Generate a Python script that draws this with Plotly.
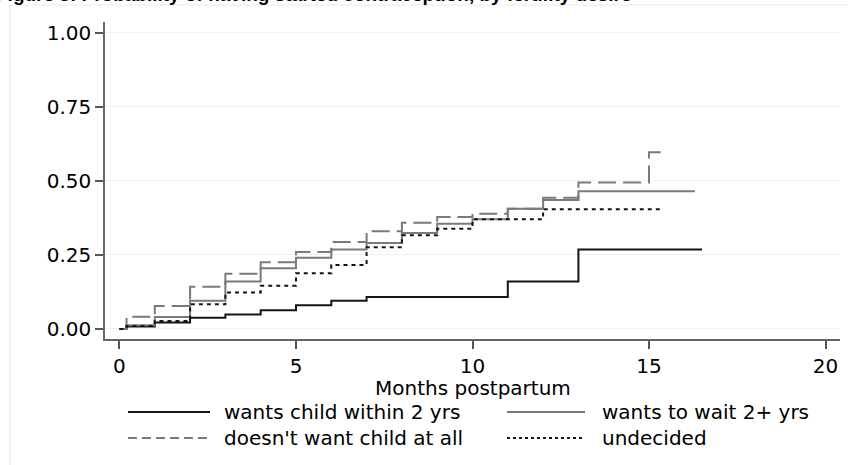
import plotly.graph_objects as go

# ---------------- data ----------------
series_names = ["wants child within 2 yrs", "wants to wait 2+ yrs",
                "doesn't want child at all", "undecided"]

months_child2 = [0, 0.2, 1, 2, 3, 4, 5, 6, 7, 11, 13, 16.5]
prob_child2 = [0, 0.008, 0.022, 0.038, 0.049, 0.063, 0.080, 0.095, 0.108, 0.160, 0.268, 0.268]

months_wait = [0, 0.2, 1, 2, 3, 4, 5, 6, 7, 8, 9, 10, 11, 12, 13, 16.3]
prob_wait = [0, 0.012, 0.040, 0.095, 0.160, 0.205, 0.240, 0.268, 0.290, 0.324, 0.355,
             0.370, 0.406, 0.435, 0.465, 0.465]

months_none = [0, 0.2, 1, 2, 3, 4, 5, 6, 7, 8, 9, 10, 11, 12, 13, 15, 15.33]
prob_none = [0, 0.041, 0.077, 0.142, 0.186, 0.225, 0.260, 0.293, 0.330, 0.358, 0.378,
             0.389, 0.406, 0.443, 0.494, 0.596, 0.596]

months_undec = [0, 0.2, 1, 2, 3, 4, 5, 6, 7, 8, 9, 10, 12, 15.4]
prob_undec = [0, 0.010, 0.027, 0.083, 0.123, 0.146, 0.188, 0.216, 0.276, 0.316, 0.338,
              0.370, 0.404, 0.404]

x_tick_vals = [0, 5, 10, 15, 20]
x_tick_text = ["0", "5", "10", "15", "20"]
y_tick_vals = [0, 0.25, 0.5, 0.75, 1.0]
y_tick_text = ["0.00", "0.25", "0.50", "0.75", "1.00"]

x_title = "Months postpartum"
fig_title = "Figure 3: Probability of having started contraception, by fertility desire"

# ---------------- styling ----------------
W, H = 848, 465
L, R, T, B = 105, 8, 22, 126
PW, PH = W - L - R, H - T - B

def px_x(px):
    return (px - L) / PW

def px_y(py):
    return (H - B - py) / PH

FONT = "DejaVu Sans"
GRAY = "#7a7a7a"
BLACK = "#141414"

styles = [
    dict(color=BLACK, width=2, dash="solid"),
    dict(color=GRAY, width=2, dash="solid"),
    dict(color=GRAY, width=2, dash="18px,7px"),
    dict(color=BLACK, width=2, dash="4px,4px"),
]
legend_dash = ["solid", "solid", "9px,5px", "3px,3px"]

xs = [months_child2, months_wait, months_none, months_undec]
ys = [prob_child2, prob_wait, prob_none, prob_undec]

fig = go.Figure()
for name, x, y, st in zip(series_names, xs, ys, styles):
    fig.add_trace(go.Scatter(x=x, y=y, mode="lines", line_shape="hv",
                             name=name, line=st, showlegend=False))

fig.update_layout(
    width=W, height=H,
    margin=dict(l=L, r=R, t=T, b=B, autoexpand=False),
    paper_bgcolor="white", plot_bgcolor="white",
    font=dict(family=FONT, size=20, color="black"),
    showlegend=False,
)
fig.update_xaxes(
    range=[-0.41, 20.41], tickvals=x_tick_vals, ticktext=x_tick_text,
    ticks="outside", ticklen=8, tickwidth=1.5, tickcolor="#555",
    showline=True, linecolor="#666", linewidth=1.5,
    showgrid=False, zeroline=False,
    tickfont=dict(size=20),
)
fig.update_yaxes(
    range=[-0.034, 1.036], tickvals=y_tick_vals, ticktext=y_tick_text,
    ticks="outside", ticklen=8, tickwidth=1.5, tickcolor="#555",
    showline=True, linecolor="#666", linewidth=1.5,
    showgrid=True, gridcolor="#eaf2f3", gridwidth=1, zeroline=False,
    tickfont=dict(size=20),
)

shapes = []
annotations = []
# Stata graph-region border (left / top)
shapes.append(dict(type="line", xref="paper", yref="paper", x0=px_x(10), x1=px_x(10),
                   y0=px_y(5), y1=px_y(H), line=dict(color="#e3ebee", width=1)))
shapes.append(dict(type="line", xref="paper", yref="paper", x0=px_x(10), x1=px_x(W),
                   y0=px_y(5), y1=px_y(5), line=dict(color="#e3ebee", width=1)))

# x-axis title
annotations.append(dict(text=x_title, xref="paper", yref="paper",
                        x=0.5, y=px_y(388), xanchor="center", yanchor="middle",
                        showarrow=False, font=dict(family=FONT, size=20, color="black")))

# manual legend (2 x 2)
leg_pos = [(128, 210, 222, 412), (507, 585, 600, 412),
           (128, 210, 222, 438), (507, 585, 600, 438)]
for i, (x0, x1, tx, ty) in enumerate(leg_pos):
    st = styles[i]
    shapes.append(dict(type="line", xref="paper", yref="paper",
                       x0=px_x(x0), x1=px_x(x1), y0=px_y(ty), y1=px_y(ty),
                       line=dict(color=st["color"], width=2, dash=legend_dash[i])))
    annotations.append(dict(text=series_names[i], xref="paper", yref="paper",
                            x=px_x(tx), y=px_y(ty), xanchor="left", yanchor="middle",
                            showarrow=False, font=dict(family=FONT, size=20, color="black")))

# partially visible figure caption at the very top
annotations.append(dict(text="<b>" + fig_title + "</b>", xref="paper", yref="paper",
                        x=px_x(-6), y=px_y(7), xanchor="left", yanchor="bottom",
                        showarrow=False,
                        font=dict(family="Liberation Sans", size=19, color="black")))

fig.update_layout(shapes=shapes, annotations=annotations)
fig.write_html("out.html", config={"displayModeBar": False},
               post_script="document.body.style.margin='0px';"
                           "document.body.style.overflow='hidden';")
